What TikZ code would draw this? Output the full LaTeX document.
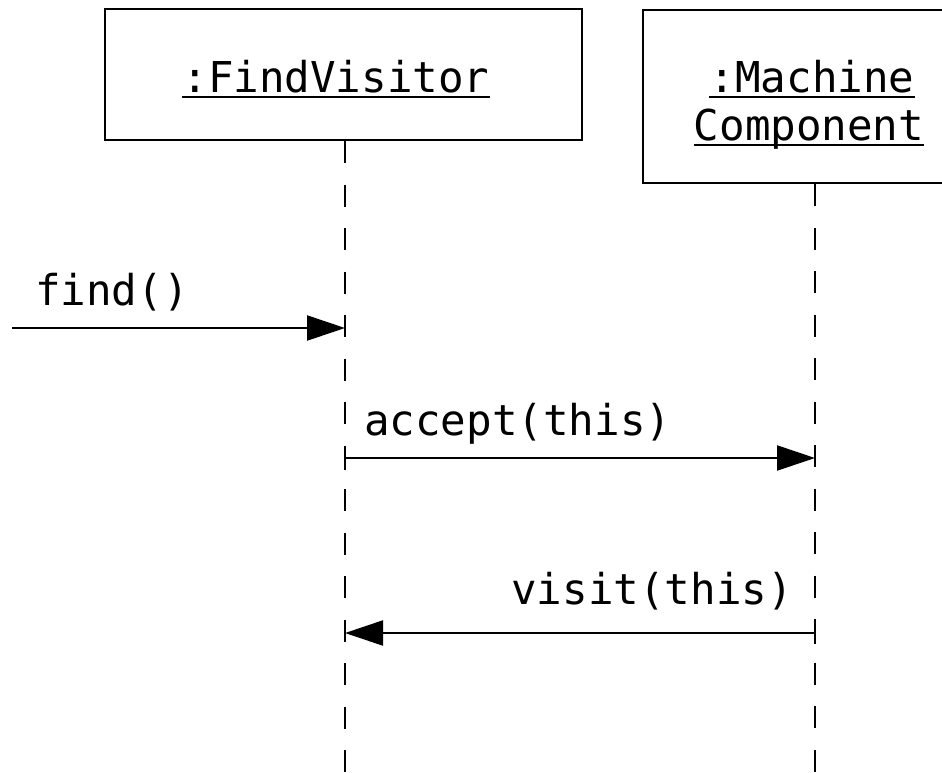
\documentclass[tikz,border=0pt]{standalone}
\usepackage{fontspec}
\newfontfamily\monofont{DejaVu Sans Mono}
\usetikzlibrary{arrows.meta}
\begin{document}
\begin{tikzpicture}[x=1pt,y=-1pt,
  objbox/.style={draw,line width=2.4pt,inner sep=0pt},
  lbl/.style={font=\monofont\fontsize{42.5}{48}\selectfont,inner sep=0pt,anchor=base},
  uline/.style={line width=2.2pt},
  lifeline/.style={line width=2.2pt,dash pattern=on 22pt off 21.5pt},
  msg/.style={line width=2.2pt,-{Triangle[length=38pt,width=25pt]}}]
\useasboundingbox (0,0) rectangle (942,772);
% object boxes
\node[objbox,minimum width=477pt,minimum height=131pt] (fv) at (343.5,74.5) {};
\node[objbox,minimum width=332pt,minimum height=173pt] (mc) at (809,96.5) {};
% labels
\node[lbl] (fvt) at (336,92) {:FindVisitor};
\draw[uline] ([yshift=-5pt]fvt.base west) -- ([yshift=-5pt]fvt.base east);
\node[lbl] (mct1) at (812,92) {:Machine};
\draw[uline] ([yshift=-5pt]mct1.base west) -- ([yshift=-5pt]mct1.base east);
\node[lbl] (mct2) at (809,140) {Component};
\draw[uline] ([yshift=-5pt]mct2.base west) -- ([yshift=-5pt]mct2.base east);
% lifelines
\coordinate (l1top) at (345,141);
\coordinate (l1bot) at (345,772);
\coordinate (l2top) at (815,184);
\coordinate (l2bot) at (815,772);
\draw[lifeline] (l1top) -- (l1bot);
\draw[lifeline] (l2top) -- (l2bot);
% message end points
\coordinate (fs) at (12,328);
\coordinate (fe) at (345,328);
\coordinate (as) at (345,458);
\coordinate (ae) at (815,458);
\coordinate (vs) at (815,633);
\coordinate (ve) at (345,633);
\draw[msg] (fs) -- (fe);
\draw[msg] (as) -- (ae);
\draw[msg] (vs) -- (ve);
% tick marks at endpoints
\draw[line width=2.2pt] (345,448) -- (345,470);
\draw[line width=2.2pt] (815,622) -- (815,644);
% message labels
\node[lbl,anchor=base west] (ft) at (35,305) {find()};
\node[lbl,anchor=base west] (at) at (364,435) {accept(this)};
\node[lbl,anchor=base east] (vt) at (793,604) {visit(this)};
\end{tikzpicture}
\end{document}
